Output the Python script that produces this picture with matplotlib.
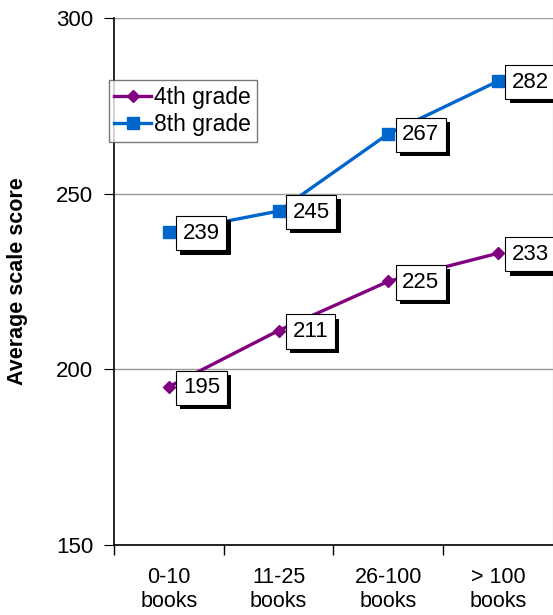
import matplotlib.pyplot as plt
import matplotlib.patheffects as pe

# Average scale score by number of books in the home
categories = ['0-10\nbooks', '11-25\nbooks', '26-100\nbooks', '> 100\nbooks']
grade4 = [195, 211, 225, 233]
grade8 = [239, 245, 267, 282]

plt.rcParams['font.family'] = ['Liberation Sans', 'DejaVu Sans']

fig = plt.figure(figsize=(5.53, 6.15), dpi=100)
ax = fig.add_axes([0.206, 0.114, 0.794, 0.857])

x = range(len(categories))
ax.plot(x, grade4, color='#800080', lw=2.4, marker='D', ms=6.5, label='4th grade', zorder=3)
ax.plot(x, grade8, color='#0066CC', lw=2.4, marker='s', ms=8.5, label='8th grade', zorder=3)

# value labels: white box with a black drop shadow
shadow = [pe.SimplePatchShadow(offset=(3, -3), shadow_rgbFace='black', alpha=1), pe.Normal()]
for series in (grade4, grade8):
    for i, v in enumerate(series):
        t = ax.annotate(str(v), (i, v), xytext=(14, -1), textcoords='offset pixels',
                        ha='left', va='center', fontsize=16, color='black',
                        bbox=dict(boxstyle='square,pad=0.3', fc='white', ec='black', lw=0.8),
                        zorder=5)
        t.get_bbox_patch().set_path_effects(shadow)

ax.set_xlim(-0.5, 3.5)
ax.set_ylim(150, 300)
ax.set_yticks([150, 200, 250, 300])
ax.set_xticks([-0.5, 0.5, 1.5, 2.5])
ax.set_xticklabels([])
ax.set_xticks(list(x), minor=True)
ax.set_xticklabels(categories, minor=True, fontsize=15.5)
ax.tick_params(axis='x', which='major', length=7, width=1)
ax.tick_params(axis='x', which='minor', length=0, pad=16)
ax.tick_params(axis='y', labelsize=16, length=7, pad=8)

ax.grid(axis='y', color='#999999', lw=1)
ax.set_axisbelow(True)
ax.spines['top'].set_visible(False)
ax.spines['right'].set_color('#aaaaaa')
ax.spines['left'].set_linewidth(1.2)
ax.spines['bottom'].set_linewidth(1.2)

ax.set_ylabel('Average scale score', fontsize=15.5, fontweight='bold', labelpad=20)

leg = ax.legend(loc='upper left', bbox_to_anchor=(-0.012, 0.882), fontsize=16.5,
                frameon=True, fancybox=False, handlelength=1.6, borderpad=0.25,
                handletextpad=0.15, labelspacing=0.2, borderaxespad=0)
leg.get_frame().set_edgecolor('#555555')
leg.get_frame().set_linewidth(1)

fig.savefig('out.png', dpi=100)
